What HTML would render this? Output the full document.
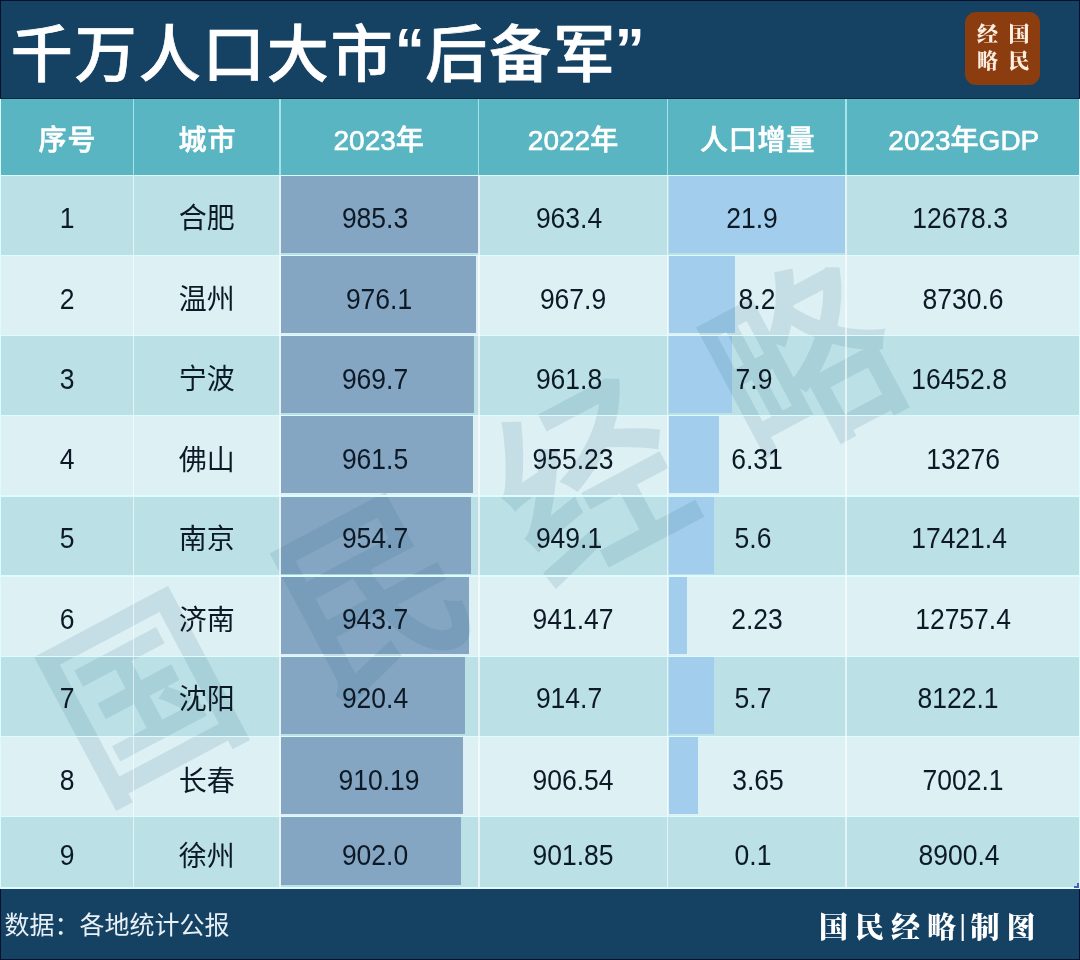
<!DOCTYPE html>
<html lang="zh-CN">
<head>
<meta charset="utf-8">
<title>千万人口大市“后备军”</title>
<style>
html,body{margin:0;padding:0;}
body{width:1080px;height:960px;overflow:hidden;position:relative;background:#154162;font-family:"Liberation Sans","Noto Sans CJK SC",sans-serif;}
.abs{position:absolute;}
#title{left:10.7px;top:9.5px;height:92px;line-height:92px;font-size:62px;letter-spacing:2px;-webkit-text-stroke:0.7px #fff;font-weight:500;color:#fff;white-space:nowrap;}
#title .q{font-size:60px;font-weight:700;letter-spacing:0.5px;-webkit-text-stroke:0;position:relative;top:-7px;}
#logo{left:965px;top:12px;width:75px;height:73px;border-radius:11px;background:#8b3d10;}
#logo span{position:absolute;font-family:"Liberation Serif","Noto Serif CJK SC",serif;font-weight:900;font-size:21px;line-height:24px;width:24px;height:24px;text-align:center;color:#fdeee0;}
#thead{left:0;top:99px;width:1080px;height:76px;background:#58b5c1;}
.th{position:absolute;top:102.7px;height:76px;line-height:76px;width:240px;text-align:center;color:#fff;font-weight:500;-webkit-text-stroke:0.6px #fff;font-size:28px;white-space:nowrap;}
.row{position:absolute;left:0;width:1080px;}
.odd{background:#bbe1e6;}
.even{background:#ddf0f3;}
.bar1{position:absolute;background:#85a6c3;}
.bar2{position:absolute;background:#a2cdec;}
.hl{position:absolute;left:0;width:1080px;background:#dcfcff;}
.vl{position:absolute;background:#dcfcff;}
.c{position:absolute;width:200px;height:40px;line-height:40px;text-align:center;color:#0d1a26;font-size:28px;white-space:nowrap;}
.n{display:inline-block;font-size:28.8px;transform:scaleX(0.92);transform-origin:50% 50%;}
#wm{position:absolute;left:0;top:99px;width:1080px;height:790px;overflow:hidden;pointer-events:none;}
#wm span{position:absolute;font-family:"Liberation Sans","Noto Sans CJK SC",sans-serif;font-weight:500;-webkit-text-stroke:2px rgb(30,95,125);opacity:0.12;font-size:195px;line-height:240px;width:240px;height:240px;text-align:center;color:rgb(30,95,125);transform:rotate(-28deg) scaleX(0.92);}
#foot1{left:4.5px;top:905px;height:40px;line-height:40px;font-size:25px;color:#e8f0f6;white-space:nowrap;}
#foot2{left:819px;top:908px;height:40px;line-height:40px;font-size:29px;letter-spacing:7px;color:#fff;font-family:"Liberation Serif","Noto Serif CJK SC",serif;font-weight:900;white-space:nowrap;}
.fr{position:absolute;background:#06102f;}
</style>
</head>
<body>
<div id="title" class="abs">千万人口大市<span class="q">“</span>后备军<span class="q" style="margin-left:-2.5px">”</span></div>
<div id="logo" class="abs"><span style="left:10.5px;top:10.3px">经</span><span style="left:42px;top:10.3px">国</span><span style="left:10.5px;top:36.5px">略</span><span style="left:42px;top:36.5px">民</span></div>
<div style="position:absolute;left:0;top:97.5px;width:1080px;height:1.5px;background:#062a42"></div>
<div id="thead" class="abs"></div>

<div class="row odd" style="top:176.0px;height:80.0px"></div>
<div class="row even" style="top:256.0px;height:80.0px"></div>
<div class="row odd" style="top:336.0px;height:80.0px"></div>
<div class="row even" style="top:416.0px;height:80.5px"></div>
<div class="row odd" style="top:496.5px;height:80.2px"></div>
<div class="row even" style="top:576.7px;height:80.3px"></div>
<div class="row odd" style="top:657.0px;height:80.0px"></div>
<div class="row even" style="top:737.0px;height:80.0px"></div>
<div class="row odd" style="top:817.0px;height:71.5px"></div>
<div class="bar1" style="left:281px;top:176.25px;width:196.5px;height:76.8px"></div>
<div class="bar2" style="left:668.5px;top:176.25px;width:176.5px;height:76.8px"></div>
<div class="bar1" style="left:281px;top:256.25px;width:194.7px;height:76.8px"></div>
<div class="bar2" style="left:668.5px;top:256.25px;width:66.1px;height:76.8px"></div>
<div class="bar1" style="left:281px;top:336.25px;width:193.4px;height:76.8px"></div>
<div class="bar2" style="left:668.5px;top:336.25px;width:63.7px;height:76.8px"></div>
<div class="bar1" style="left:281px;top:416.25px;width:191.8px;height:77.2px"></div>
<div class="bar2" style="left:668.5px;top:416.25px;width:50.9px;height:77.2px"></div>
<div class="bar1" style="left:281px;top:496.75px;width:190.4px;height:77.0px"></div>
<div class="bar2" style="left:668.5px;top:496.75px;width:45.1px;height:77.0px"></div>
<div class="bar1" style="left:281px;top:576.95px;width:188.2px;height:77.0px"></div>
<div class="bar2" style="left:668.5px;top:576.95px;width:18.0px;height:77.0px"></div>
<div class="bar1" style="left:281px;top:657.25px;width:183.6px;height:76.8px"></div>
<div class="bar2" style="left:668.5px;top:657.25px;width:45.9px;height:76.8px"></div>
<div class="bar1" style="left:281px;top:737.25px;width:181.5px;height:76.8px"></div>
<div class="bar2" style="left:668.5px;top:737.25px;width:29.4px;height:76.8px"></div>
<div class="bar1" style="left:281px;top:817.25px;width:179.9px;height:68.2px"></div>
<div id="wm">
<span style="left:23px;top:481px">国</span>
<span style="left:253px;top:379px">民</span>
<span style="left:472px;top:266px">经</span>
<span style="left:685px;top:148px">略</span>
</div>
<div class="hl" style="top:174.75px;height:1.5px"></div>
<div class="hl" style="top:254.75px;height:1.5px"></div>
<div class="hl" style="top:334.75px;height:1.5px"></div>
<div class="hl" style="top:414.75px;height:1.5px"></div>
<div class="hl" style="top:495.25px;height:1.5px"></div>
<div class="hl" style="top:575.45px;height:1.5px"></div>
<div class="hl" style="top:655.75px;height:1.5px"></div>
<div class="hl" style="top:735.75px;height:1.5px"></div>
<div class="hl" style="top:815.75px;height:1.5px"></div>
<div class="hl" style="top:887.25px;height:2px"></div>
<div class="vl" style="left:132.75px;top:99px;width:1.25px;height:76px;background:rgba(205,252,255,0.65)"></div>
<div class="vl" style="left:132.75px;top:175px;width:1.5px;height:714px;background:rgba(255,255,255,0.6)"></div>
<div class="vl" style="left:279.25px;top:99px;width:1.25px;height:76px;background:rgba(205,252,255,0.65)"></div>
<div class="vl" style="left:279.25px;top:175px;width:1.5px;height:714px;background:rgba(255,255,255,0.6)"></div>
<div class="vl" style="left:478.05px;top:99px;width:1.25px;height:76px;background:rgba(205,252,255,0.65)"></div>
<div class="vl" style="left:478.05px;top:175px;width:1.5px;height:714px;background:rgba(255,255,255,0.6)"></div>
<div class="vl" style="left:666.75px;top:99px;width:1.25px;height:76px;background:rgba(205,252,255,0.65)"></div>
<div class="vl" style="left:666.75px;top:175px;width:1.5px;height:714px;background:rgba(255,255,255,0.6)"></div>
<div class="vl" style="left:845.25px;top:99px;width:1.25px;height:76px;background:rgba(205,252,255,0.65)"></div>
<div class="vl" style="left:845.25px;top:175px;width:1.5px;height:714px;background:rgba(255,255,255,0.6)"></div>
<div class="vl" style="left:1079px;top:99px;width:1px;height:790px"></div>
<div class="vl" style="left:0px;top:99px;width:1px;height:790px"></div>
<div class="th" style="left:-53px;letter-spacing:0.8px;text-indent:0.8px">序号</div>
<div class="th" style="left:87px;letter-spacing:0.8px;text-indent:0.8px">城市</div>
<div class="th" style="left:258.7px">2023年</div>
<div class="th" style="left:453px">2022年</div>
<div class="th" style="left:637.2px;letter-spacing:0.8px;text-indent:0.8px">人口增量</div>
<div class="th" style="left:843.8px">2023年GDP</div>
<div class="c" style="left:-33.3px;top:197.6px"><span class="n">1</span></div>
<div class="c" style="left:106.7px;top:199.1px">合肥</div>
<div class="c" style="left:275.0px;top:197.6px"><span class="n">985.3</span></div>
<div class="c" style="left:469.4px;top:197.6px"><span class="n">963.4</span></div>
<div class="c" style="left:652.4px;top:197.6px"><span class="n">21.9</span></div>
<div class="c" style="left:860.0px;top:197.6px"><span class="n">12678.3</span></div>
<div class="c" style="left:-33.3px;top:278.7px"><span class="n">2</span></div>
<div class="c" style="left:106.7px;top:280.2px">温州</div>
<div class="c" style="left:278.7px;top:278.7px"><span class="n">976.1</span></div>
<div class="c" style="left:473.0px;top:278.7px"><span class="n">967.9</span></div>
<div class="c" style="left:656.6px;top:278.7px"><span class="n">8.2</span></div>
<div class="c" style="left:863.4px;top:278.7px"><span class="n">8730.6</span></div>
<div class="c" style="left:-33.3px;top:358.7px"><span class="n">3</span></div>
<div class="c" style="left:106.7px;top:360.2px">宁波</div>
<div class="c" style="left:274.6px;top:358.7px"><span class="n">969.7</span></div>
<div class="c" style="left:469.4px;top:358.7px"><span class="n">961.8</span></div>
<div class="c" style="left:654.0px;top:358.7px"><span class="n">7.9</span></div>
<div class="c" style="left:859.5px;top:358.7px"><span class="n">16452.8</span></div>
<div class="c" style="left:-33.3px;top:439.3px"><span class="n">4</span></div>
<div class="c" style="left:106.7px;top:440.8px">佛山</div>
<div class="c" style="left:275.0px;top:439.3px"><span class="n">961.5</span></div>
<div class="c" style="left:473.0px;top:439.3px"><span class="n">955.23</span></div>
<div class="c" style="left:657.0px;top:439.3px"><span class="n">6.31</span></div>
<div class="c" style="left:863.0px;top:439.3px"><span class="n">13276</span></div>
<div class="c" style="left:-33.3px;top:518.3px"><span class="n">5</span></div>
<div class="c" style="left:106.7px;top:519.8px">南京</div>
<div class="c" style="left:274.6px;top:518.3px"><span class="n">954.7</span></div>
<div class="c" style="left:469.4px;top:518.3px"><span class="n">949.1</span></div>
<div class="c" style="left:653.4px;top:518.3px"><span class="n">5.6</span></div>
<div class="c" style="left:859.5px;top:518.3px"><span class="n">17421.4</span></div>
<div class="c" style="left:-33.3px;top:599.0px"><span class="n">6</span></div>
<div class="c" style="left:106.7px;top:600.5px">济南</div>
<div class="c" style="left:274.6px;top:599.0px"><span class="n">943.7</span></div>
<div class="c" style="left:472.8px;top:599.0px"><span class="n">941.47</span></div>
<div class="c" style="left:657.2px;top:599.0px"><span class="n">2.23</span></div>
<div class="c" style="left:862.8px;top:599.0px"><span class="n">12757.4</span></div>
<div class="c" style="left:-33.3px;top:678.3px"><span class="n">7</span></div>
<div class="c" style="left:106.7px;top:679.8px">沈阳</div>
<div class="c" style="left:275.0px;top:678.3px"><span class="n">920.4</span></div>
<div class="c" style="left:469.0px;top:678.3px"><span class="n">914.7</span></div>
<div class="c" style="left:652.8px;top:678.3px"><span class="n">5.7</span></div>
<div class="c" style="left:858.1px;top:678.3px"><span class="n">8122.1</span></div>
<div class="c" style="left:-33.3px;top:760.2px"><span class="n">8</span></div>
<div class="c" style="left:106.7px;top:761.7px">长春</div>
<div class="c" style="left:279.4px;top:760.2px"><span class="n">910.19</span></div>
<div class="c" style="left:473.0px;top:760.2px"><span class="n">906.54</span></div>
<div class="c" style="left:657.6px;top:760.2px"><span class="n">3.65</span></div>
<div class="c" style="left:863.4px;top:760.2px"><span class="n">7002.1</span></div>
<div class="c" style="left:-33.3px;top:835.0px"><span class="n">9</span></div>
<div class="c" style="left:106.7px;top:836.5px">徐州</div>
<div class="c" style="left:275.4px;top:835.0px"><span class="n">902.0</span></div>
<div class="c" style="left:473.0px;top:835.0px"><span class="n">901.85</span></div>
<div class="c" style="left:653.0px;top:835.0px"><span class="n">0.1</span></div>
<div class="c" style="left:858.9px;top:835.0px"><span class="n">8900.4</span></div>
<div style="position:absolute;left:1077px;top:883px;width:2px;height:5px;background:#4a5fb8"></div><div style="position:absolute;left:1074px;top:886px;width:5px;height:2px;background:#4a5fb8"></div>
<div id="foot1" class="abs">数据：各地统计公报</div>
<div id="foot2" class="abs">国民经略<span style="letter-spacing:4.5px;margin-left:-3.5px;position:relative;top:-3px">|</span>制图</div>
<div class="fr" style="left:0;top:0;width:1080px;height:1px"></div>
<div class="fr" style="left:0;top:0;width:1px;height:98px"></div>
<div class="fr" style="left:1079px;top:0;width:1px;height:98px"></div>
<div class="fr" style="left:0;top:889px;width:1px;height:71px"></div>
<div class="fr" style="left:1079px;top:889px;width:1px;height:71px"></div>
<div class="fr" style="left:0;top:959px;width:1080px;height:1px"></div>
</body>
</html>
